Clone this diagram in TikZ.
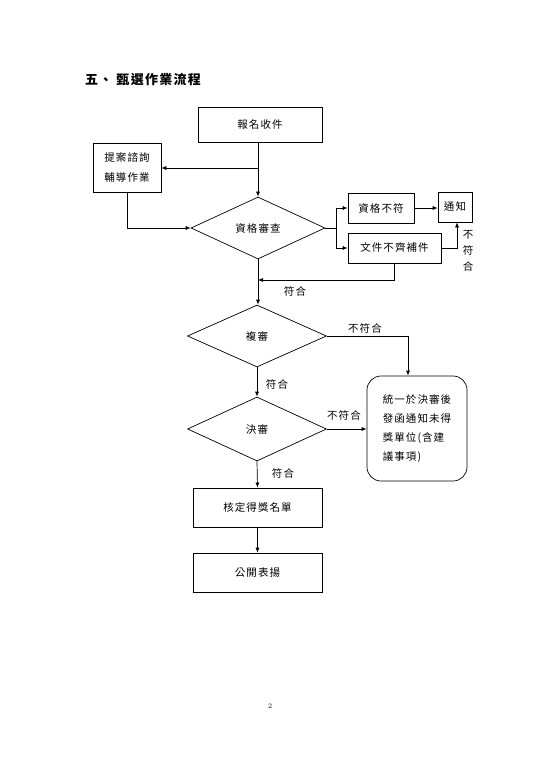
\documentclass[tikz,border=0pt]{standalone}
\usepackage{fontspec}
\newfontfamily\cjk[LetterSpace=10]{Noto Sans CJK TC}
\usetikzlibrary{shapes.geometric,arrows.meta}
\begin{document}
\begin{tikzpicture}[x=1pt,y=-1pt,
  every node/.style={font=\cjk\fontsize{10.5}{19}\selectfont},
  box/.style={draw,line width=0.7pt,inner sep=0pt,align=center},
  dia/.style={draw,line width=0.7pt,diamond,inner sep=0pt,aspect=2.2},
  ln/.style={line width=0.7pt},
  arr/.style={line width=0.7pt,-{Latex[length=5pt,width=4pt]}},
  lab/.style={inner sep=0pt}]
\useasboundingbox (0,0) rectangle (534,767);
% title
\node[lab,anchor=west,font=\cjk\fontsize{13}{15}\selectfont\bfseries] (title) at (85,80) {五、\hspace{4pt}甄選作業流程};
% nodes
\node[box,minimum width=124pt,minimum height=35pt] (bm) at (260,124.5) {報名收件};
\node[box,minimum width=68pt,minimum height=49pt,font=\cjk\fontsize{10.5}{20}\selectfont] (ta) at (127,167.5) {提案諮詢\\輔導作業};
\node[dia,minimum width=134pt,minimum height=62pt] (zg) at (258,228) {資格審查};
\node[box,minimum width=66pt,minimum height=30pt] (bf) at (381,208) {資格不符};
\node[box,minimum width=93pt,minimum height=30pt] (wj) at (394.5,248) {文件不齊補件};
\node[box,minimum width=34pt,minimum height=30pt] (tz) at (455,207) {通知};
\node[dia,minimum width=139pt,minimum height=62pt] (fs) at (257,336) {複審};
\node[dia,minimum width=139pt,minimum height=64pt] (js) at (257,429) {決審};
\node[box,rounded corners=14pt,minimum width=100pt,minimum height=105pt,align=left] (ty) at (417,428.5) {統一於決審後\\發函通知未得\\獎單位(含建\\議事項)};
\node[box,minimum width=129pt,minimum height=39pt] (hd) at (257.5,507.5) {核定得獎名單};
\node[box,minimum width=129pt,minimum height=39pt] (gk) at (257.5,572.5) {公開表揚};
% labels
\node[lab] (l1) at (295,291) {符合};
\node[lab,align=center,font=\cjk\fontsize{10.5}{16}\selectfont] (l2) at (468,251) {不\\符\\合};
\node[lab] (l3) at (365,328) {不符合};
\node[lab] (l4) at (277,384) {符合};
\node[lab] (l5) at (344,415) {不符合};
\node[lab] (l6) at (283,473) {符合};
\node[lab,font=\scriptsize] (pg) at (270,706) {2};
% connectors
\coordinate (j1) at (258,168);
\coordinate (j2) at (258,280);
\coordinate (b1) at (336,228);
\draw[arr] (bm.south -| j1) -- (zg.north);
\draw[arr] (j1) -- (ta.east |- j1);
\draw[arr] (ta.south) |- (zg.west);
\draw[ln] (zg.east) -- (b1);
\draw[arr] (b1) |- (bf.west);
\draw[arr] (b1) |- (wj.west);
\draw[arr] (bf.east) -- (tz.west |- bf.east);
\draw[arr] (wj.east) -| ([xshift=2pt]tz.south);
\draw[arr] (wj.south) |- (j2);
\draw[arr] (zg.south) -- (fs.north -| zg.south);
\draw[arr] (fs.east) -| ([xshift=-9pt]ty.north);
\draw[arr] (fs.south) -- (js.north);
\draw[arr] (js.east) -- (ty.west |- js.east);
\draw[arr] (js.south) -- (hd.north);
\draw[arr] (hd.south) -- (gk.north);
\end{tikzpicture}
\end{document}
